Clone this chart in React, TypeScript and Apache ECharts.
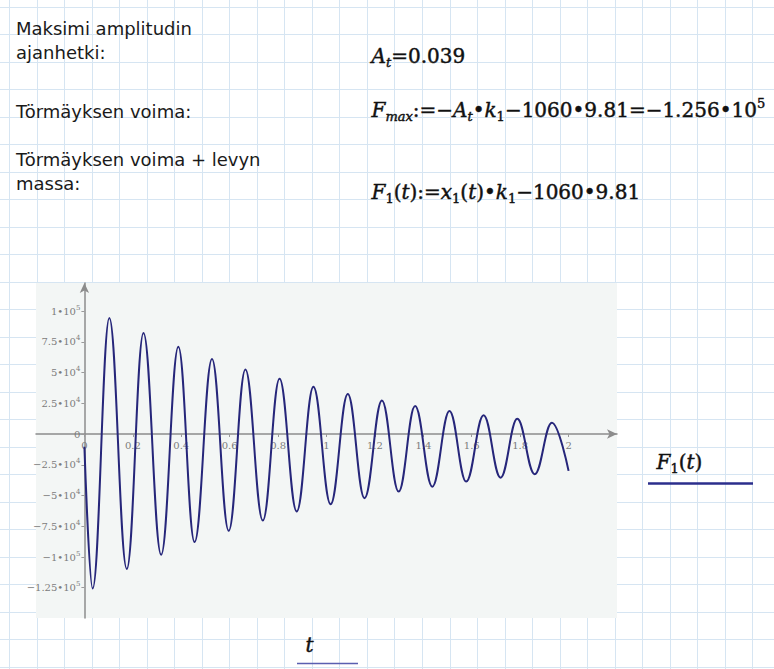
import React, { useEffect, useRef } from "react";
import * as echarts from "echarts";

const W = 774;
const H = 669;

// Turning points of F1(t): time [s] and force [N]
const timePoints = [
  0, 0.034, 0.103, 0.175, 0.244, 0.317, 0.388, 0.455, 0.527, 0.596, 0.665,
  0.737, 0.806, 0.877, 0.946, 1.017, 1.088, 1.157, 1.229, 1.298, 1.366, 1.437,
  1.508, 1.577, 1.649, 1.719, 1.788, 1.86, 1.931, 2.0,
];
const forceValues = [
  -10400, -125600, 94400, -109800, 82200, -98200, 70900, -87900, 61100, -78700,
  52500, -70400, 44900, -63000, 38400, -57100, 32500, -52200, 27300, -46800,
  22700, -42800, 18700, -38700, 15200, -35500, 12400, -32700, 9200, -30000,
];

const xTickValues = [0, 0.2, 0.4, 0.6, 0.8, 1, 1.2, 1.4, 1.6, 1.8, 2];
const yTickValues = [-125000, -100000, -75000, -50000, -25000, 0, 25000, 50000, 75000, 100000];
const yTickMantissa = ["−1.25•10", "−1•10", "−7.5•10", "−5•10", "−2.5•10", "0", "2.5•10", "5•10", "7.5•10", "1•10"];
const yTickExponent = ["5", "5", "4", "4", "4", "", "4", "4", "4", "5"];

const X_MIN = -0.2;
const X_MAX = 2.2;
const Y_MIN = -149600;
const Y_MAX = 122800;

const noteTexts = [
  "Maksimi amplitudin\najanhetki:",
  "Törmäyksen voima:",
  "Törmäyksen voima + levyn\nmassa:",
];

const mathLines = [
  "{v|A}{si|t}{n|=0.039}",
  "{v|F}{m|max}{n|:=−}{v|A}{si|t}{n|•}{v|k}{s|1}{n|−1060•9.81=−1.256•10}{p|5}",
  "{v|F}{s|1}{n|(}{v|t}{n|):=}{v|x}{s|1}{n|(}{v|t}{n|)•}{v|k}{s|1}{n|−1060•9.81}",
];
const legendLabel = "{v|F}{s|1}{n|(}{v|t}{n|)}";
const xAxisName = "{v|t}";

const SERIF = '"DejaVu Serif", serif';
const SANS = '"DejaVu Sans", Verdana, sans-serif';
const INK = "#111111";

// slight stroke to give the math a heavier weight
const heavy = { fill: INK, stroke: INK, lineWidth: 0.45 };
const mathRich = {
  n: { fontFamily: SERIF, fontSize: 20, lineHeight: 26, ...heavy },
  v: { fontFamily: SERIF, fontSize: 20, lineHeight: 26, fontStyle: "italic", ...heavy },
  s: { fontFamily: SERIF, fontSize: 13, lineHeight: 11, verticalAlign: "bottom", ...heavy },
  si: { fontFamily: SERIF, fontSize: 13, lineHeight: 11, verticalAlign: "bottom", fontStyle: "italic", ...heavy },
  m: { fontFamily: SERIF, fontSize: 13, lineHeight: 6, verticalAlign: "bottom", fontStyle: "italic", ...heavy },
  p: { fontFamily: SERIF, fontSize: 13, lineHeight: 15, verticalAlign: "top", ...heavy },
};

function worksheetGrid() {
  const els: any[] = [];
  for (let x = 9.2; x < W; x += 27.52) {
    const px = Math.round(x) + 0.5;
    els.push({
      type: "line",
      z: -9,
      silent: true,
      shape: { x1: px, y1: 0, x2: px, y2: H },
      style: { stroke: "#d6e5f2", lineWidth: 1 },
    });
  }
  for (let y = 6.7; y < H; y += 27.5) {
    const py = Math.round(y) + 0.5;
    els.push({
      type: "line",
      z: -9,
      silent: true,
      shape: { x1: 0, y1: py, x2: W, y2: py },
      style: { stroke: "#d6e5f2", lineWidth: 1 },
    });
  }
  return els;
}

const PLOT = { left: 36, top: 283, right: 617, bottom: 618 };

export default function App() {
  const ref = useRef<HTMLDivElement>(null);

  useEffect(() => {
    if (!ref.current) return;
    const chart = echarts.init(ref.current, undefined, { renderer: "svg" });

    const plotW = PLOT.right - PLOT.left;
    const plotH = PLOT.bottom - PLOT.top;
    // Axes cross at the origin: shift them inward from the grid edges
    const originX = PLOT.left + ((0 - X_MIN) / (X_MAX - X_MIN)) * plotW;
    const originY = PLOT.top + ((Y_MAX - 0) / (Y_MAX - Y_MIN)) * plotH;

    const noteY = [16.8, 99.1, 147.6];
    const mathY = [43.4, 97.4, 179.2];

    const graphics: any[] = [
      { type: "rect", z: -10, silent: true, shape: { x: 0, y: 0, width: W, height: H }, style: { fill: "#ffffff" } },
      ...worksheetGrid(),
      {
        type: "rect",
        z: -8,
        silent: true,
        shape: { x: PLOT.left, y: PLOT.top, width: plotW, height: plotH },
        style: { fill: "#f3f6f5" },
      },
      ...noteTexts.map((t, i) => ({
        type: "text",
        x: 16,
        y: noteY[i],
        style: { text: t, font: `18px ${SANS}`, fill: "#1a1a1a", lineHeight: 24, verticalAlign: "top" },
      })),
      ...mathLines.map((t, i) => ({
        type: "text",
        x: 371.5,
        y: mathY[i],
        style: { text: t, rich: mathRich, verticalAlign: "top" },
      })),
      {
        type: "text",
        x: 656.5,
        y: 449.4,
        style: { text: legendLabel, rich: mathRich, verticalAlign: "top" },
      },
      {
        type: "line",
        shape: { x1: 648, y1: 483.5, x2: 753, y2: 483.5 },
        style: { stroke: "#2b2e8c", lineWidth: 2.5 },
      },
      {
        type: "text",
        x: 305.5,
        y: 631.8,
        style: { text: xAxisName, rich: mathRich, verticalAlign: "top" },
      },
      {
        type: "line",
        shape: { x1: 297, y1: 663.5, x2: 358, y2: 663.5 },
        style: { stroke: "#5a5eb0", lineWidth: 1.5 },
      },
    ];

    const axisLineStyle = { color: "#8c8c8c", width: 1.5 };
    const labelColor = "#7c7c7c";

    chart.setOption({
      animation: false,
      backgroundColor: "#ffffff",
      graphic: { elements: graphics },
      grid: {
        left: PLOT.left,
        top: PLOT.top,
        width: plotW,
        height: plotH,
        containLabel: false,
        outerBoundsMode: "none",
      },
      xAxis: {
        type: "value",
        position: "bottom",
        offset: -(PLOT.bottom - originY),
        min: X_MIN,
        max: X_MAX,
        interval: 0.2,
        axisLine: { onZero: false, symbol: ["none", "arrow"], symbolSize: [7, 10], lineStyle: axisLineStyle },
        axisTick: { show: true, customValues: xTickValues, length: 3, lineStyle: { color: "#9a9a9a" } },
        axisLabel: {
          customValues: xTickValues,
          fontFamily: SERIF,
          fontSize: 10,
          color: labelColor,
          margin: 6,
        },
        splitLine: { show: false },
      },
      yAxis: {
        type: "value",
        position: "left",
        offset: -(originX - PLOT.left),
        min: Y_MIN,
        max: Y_MAX,
        axisLine: { onZero: false, symbol: ["none", "arrow"], symbolSize: [7, 10], lineStyle: axisLineStyle },
        axisTick: { show: true, customValues: yTickValues, length: 3, lineStyle: { color: "#9a9a9a" } },
        axisLabel: {
          customValues: yTickValues,
          margin: 4,
          formatter: (v: number) => {
            const i = yTickValues.indexOf(v);
            if (i < 0) return "";
            const e = yTickExponent[i];
            return e ? `{a|${yTickMantissa[i]}}{b|${e}}` : `{a|${yTickMantissa[i]}}`;
          },
          rich: {
            a: { fontFamily: SERIF, fontSize: 10, lineHeight: 14, color: labelColor },
            b: { fontFamily: SERIF, fontSize: 7, lineHeight: 8, verticalAlign: "top", color: labelColor },
          },
        },
        splitLine: { show: false },
      },
      series: [
        {
          type: "line",
          data: timePoints.map((t, i) => [t, forceValues[i]]),
          showSymbol: false,
          symbol: "none",
          smooth: 0.4,
          smoothMonotone: "x",
          lineStyle: { color: "#26267a", width: 2 },
          z: 3,
        },
      ],
    });

    return () => chart.dispose();
  }, []);

  return (
    <div
      ref={ref}
      style={{ position: "absolute", left: 0, top: 0, width: W, height: H }}
    />
  );
}
